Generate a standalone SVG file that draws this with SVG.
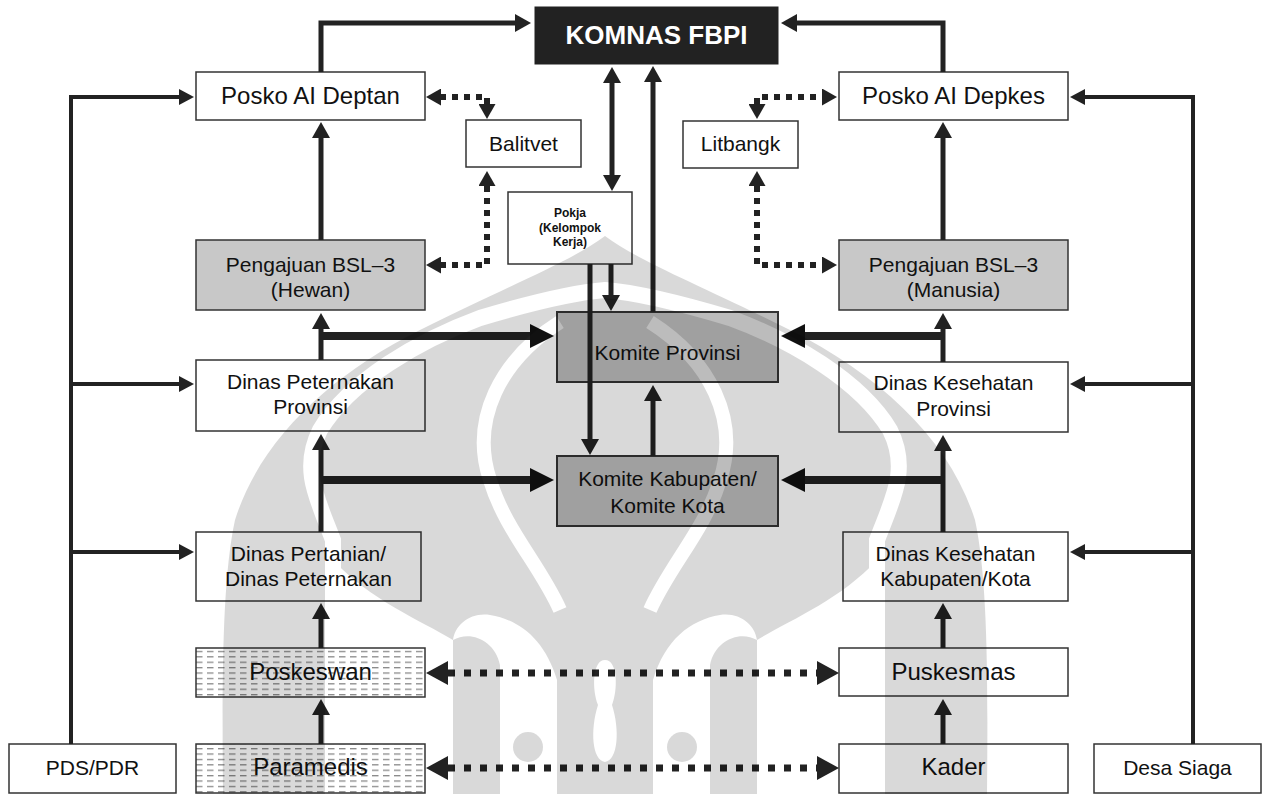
<svg xmlns="http://www.w3.org/2000/svg" width="1263" height="794" viewBox="0 0 1263 794">
<style>
.box{fill:#fff;stroke:#333;stroke-width:1.5}
.g1{fill:#c8c8c8}
.g2{fill:#bcbcbc;stroke-width:2}
.hatch{fill:url(#hatch)}
.t{font-family:"Liberation Sans",Arial,sans-serif;font-size:21px;fill:#111;text-anchor:middle}
.t23{font-size:24px}
.t24{font-size:24px}
.pk{font-size:12px;font-weight:bold}
.km{font-size:26px;font-weight:bold;fill:#fff}
.ln{fill:none;stroke:#222;stroke-width:5}
.thin{stroke-width:4}
.thick{stroke-width:8}
.dot{fill:none;stroke:#222;stroke-width:6;stroke-dasharray:6 6}
.dotb{fill:none;stroke:#222;stroke-width:7;stroke-dasharray:7 9}
</style>
<defs>
<pattern id="hatch" patternUnits="userSpaceOnUse" x="196" y="649" width="11" height="5.4">
<rect width="11" height="5.4" fill="#fff"/>
<line x1="0" y1="2.5" x2="6.5" y2="2.5" stroke="#666" stroke-width="1"/>
</pattern>
<marker id="a5" markerUnits="userSpaceOnUse" markerWidth="16" markerHeight="18" refX="4" refY="9" orient="auto-start-reverse"><path d="M0,0 L16,9 L0,18 Z" fill="#222"/></marker>
<marker id="a4" markerUnits="userSpaceOnUse" markerWidth="15" markerHeight="16" refX="4" refY="8" orient="auto-start-reverse"><path d="M0,0 L15,8 L0,16 Z" fill="#222"/></marker>
<marker id="a8" markerUnits="userSpaceOnUse" markerWidth="24" markerHeight="24" refX="6" refY="12" orient="auto-start-reverse"><path d="M0,0 L24,12 L0,24 Z" fill="#111"/></marker>
<marker id="ad" markerUnits="userSpaceOnUse" markerWidth="15" markerHeight="17" refX="0" refY="8.5" orient="auto-start-reverse"><path d="M0,0 L15,8.5 L0,17 Z" fill="#222"/></marker>
<marker id="adb" markerUnits="userSpaceOnUse" markerWidth="22" markerHeight="24" refX="0" refY="12" orient="auto-start-reverse"><path d="M0,0 L22,12 L0,24 Z" fill="#222"/></marker>
<mask id="wm" maskUnits="userSpaceOnUse" x="0" y="0" width="1263" height="794">
<path fill="#fff" d="M605 236 C640 262 700 285 790 330 C880 375 950 440 975 520 C988 580 988 680 987 794 L223 794 C222 680 222 580 235 520 C260 440 330 375 420 330 C510 285 570 262 605 236 Z"/>
<path fill="none" stroke="#000" stroke-width="16" d="M333 794 L333 540 C318 500 300 470 320 430 C350 380 420 340 480 318 C540 300 580 292 605 290 C630 292 670 300 730 318 C790 340 860 380 890 430 C910 470 892 500 877 540 L877 794"/>
<path fill="#000" d="M333 794 L333 560 C370 600 420 620 453 640 L453 794 Z M877 794 L877 560 C840 600 790 620 757 640 L757 794 Z"/>
<path fill="none" stroke="#000" stroke-width="14" d="M560 322 C500 360 470 420 490 480 C505 530 540 565 560 610"/>
<path fill="none" stroke="#000" stroke-width="14" d="M650 322 C710 360 740 420 720 480 C705 530 670 565 650 610"/>
<path fill="#000" d="M453 640 C470 630 495 640 500 665 L500 794 L557 794 L557 680 C545 640 520 620 490 615 C470 612 455 625 453 640 Z"/>
<path fill="#000" d="M757 640 C740 630 715 640 710 665 L710 794 L653 794 L653 680 C665 640 690 620 720 615 C740 612 755 625 757 640 Z"/>
<circle cx="528" cy="747" r="15" fill="#fff"/>
<circle cx="682" cy="747" r="15" fill="#fff"/>
<path fill="#000" d="M605 660 C592 660 592 690 598 705 C590 730 592 760 605 762 C618 760 620 730 612 705 C618 690 618 660 605 660 Z"/>
</mask>
</defs>
<rect width="1263" height="794" fill="#fff"/>

<g id="komnas"><rect x="535" y="7" width="243" height="57" fill="#222" stroke="#222"/><text class="t km" x="656.5" y="44">KOMNAS FBPI</text></g>
<g id="posko-deptan"><rect class="box" x="196" y="72" width="229" height="48"/><text class="t t23" x="310.5" y="104">Posko AI Deptan</text></g>
<g id="posko-depkes"><rect class="box" x="839" y="72" width="229" height="48"/><text class="t t23" x="953.5" y="104">Posko AI Depkes</text></g>
<g id="balitvet"><rect class="box" x="466" y="120" width="115" height="47"/><text class="t" x="523.5" y="151">Balitvet</text></g>
<g id="litbangk"><rect class="box" x="683" y="121" width="115" height="47"/><text class="t" x="740.5" y="151">Litbangk</text></g>
<g id="pokja"><rect class="box" x="508" y="192" width="124" height="72"/><text class="t pk" x="570" y="217">Pokja</text><text class="t pk" x="570" y="232">(Kelompok</text><text class="t pk" x="570" y="246">Kerja)</text></g>
<g id="bsl-hewan"><rect class="box g1" x="196" y="240" width="229" height="70"/><text class="t" x="310.5" y="272">Pengajuan BSL–3</text><text class="t" x="310.5" y="297">(Hewan)</text></g>
<g id="bsl-manusia"><rect class="box g1" x="839" y="240" width="229" height="70"/><text class="t" x="953.5" y="272">Pengajuan BSL–3</text><text class="t" x="953.5" y="297">(Manusia)</text></g>
<g id="komite-provinsi"><rect class="box g2" x="557" y="312" width="221" height="70"/><text class="t" x="667.5" y="360">Komite Provinsi</text></g>
<g id="komite-kabupaten"><rect class="box g2" x="557" y="456" width="221" height="70"/><text class="t" x="667.5" y="486">Komite Kabupaten/</text><text class="t" x="667.5" y="513">Komite Kota</text></g>
<g id="dinas-peternakan-prov"><rect class="box" x="196" y="360" width="229" height="71"/><text class="t" x="310.5" y="389">Dinas Peternakan</text><text class="t" x="310.5" y="414">Provinsi</text></g>
<g id="dinas-kesehatan-prov"><rect class="box" x="839" y="362" width="229" height="70"/><text class="t" x="953.5" y="390">Dinas Kesehatan</text><text class="t" x="953.5" y="416">Provinsi</text></g>
<g id="dinas-pertanian"><rect class="box" x="196" y="532" width="225" height="69"/><text class="t" x="308.5" y="561">Dinas Pertanian/</text><text class="t" x="308.5" y="586">Dinas Peternakan</text></g>
<g id="dinas-kesehatan-kab"><rect class="box" x="843" y="532" width="225" height="69"/><text class="t" x="955.5" y="561">Dinas Kesehatan</text><text class="t" x="955.5" y="586">Kabupaten/Kota</text></g>
<g id="poskeswan"><rect class="box hatch" x="196" y="648" width="229" height="49"/><text class="t t24" x="310.5" y="680">Poskeswan</text></g>
<g id="puskesmas"><rect class="box" x="839" y="648" width="229" height="48"/><text class="t t24" x="953.5" y="680">Puskesmas</text></g>
<g id="paramedis"><rect class="box hatch" x="196" y="744" width="229" height="49"/><text class="t t24" x="310.5" y="775">Paramedis</text></g>
<g id="kader"><rect class="box" x="839" y="744" width="229" height="49"/><text class="t t24" x="953.5" y="775">Kader</text></g>
<g id="pds-pdr"><rect class="box" x="9" y="744" width="167" height="49"/><text class="t" x="92.5" y="775">PDS/PDR</text></g>
<g id="desa-siaga"><rect class="box" x="1094" y="744" width="167" height="49"/><text class="t" x="1177.5" y="775">Desa Siaga</text></g>

<g id="connectors">
<path class="ln" marker-end="url(#a5)" d="M321 72 L321 23 L519 23"/>
<path class="ln" marker-end="url(#a5)" d="M943 72 L943 23 L793 23"/>
<path class="ln" marker-end="url(#a5)" d="M321 240 L321 134"/>
<path class="ln" marker-end="url(#a5)" d="M321 360 L321 325"/>
<path class="ln" marker-end="url(#a5)" d="M321 532 L321 446"/>
<path class="ln" marker-end="url(#a5)" d="M321 648 L321 615"/>
<path class="ln" marker-end="url(#a5)" d="M321 744 L321 711"/>
<path class="ln" marker-end="url(#a5)" d="M943 240 L943 134"/>
<path class="ln" marker-end="url(#a5)" d="M943 362 L943 325"/>
<path class="ln" marker-end="url(#a5)" d="M943 532 L943 447"/>
<path class="ln" marker-end="url(#a5)" d="M943 648 L943 615"/>
<path class="ln" marker-end="url(#a5)" d="M943 744 L943 711"/>
<path class="ln thick" marker-end="url(#a8)" d="M319 336 L536 336"/>
<path class="ln thick" marker-end="url(#a8)" d="M319 480 L536 480"/>
<path class="ln thick" marker-end="url(#a8)" d="M945 336 L799 336"/>
<path class="ln thick" marker-end="url(#a8)" d="M945 480 L799 480"/>
<path class="ln" marker-start="url(#a5)" marker-end="url(#a5)" d="M612 79 L612 179"/>
<path class="ln" marker-end="url(#a5)" d="M653 312 L653 78"/>
<path class="ln" marker-end="url(#a5)" d="M611 264 L611 299"/>
<path class="ln" marker-end="url(#a5)" d="M590 264 L590 443"/>
<path class="ln" marker-end="url(#a5)" d="M653 456 L653 397"/>
<path class="ln thin" marker-end="url(#a4)" d="M71 744 L71 97 L183 97"/>
<path class="ln thin" marker-end="url(#a4)" d="M71 384 L183 384"/>
<path class="ln thin" marker-end="url(#a4)" d="M71 552 L183 552"/>
<path class="ln thin" marker-end="url(#a4)" d="M1193 744 L1193 97 L1081 97"/>
<path class="ln thin" marker-end="url(#a4)" d="M1193 384 L1081 384"/>
<path class="ln thin" marker-end="url(#a4)" d="M1193 552 L1081 552"/>
<path class="dot" marker-start="url(#ad)" marker-end="url(#ad)" d="M487 104 L487 97 L441 97"/>
<path class="dot" marker-start="url(#ad)" marker-end="url(#ad)" d="M487 186 L487 265 L441 265"/>
<path class="dot" marker-start="url(#ad)" marker-end="url(#ad)" d="M757 104 L757 97 L822 97"/>
<path class="dot" marker-start="url(#ad)" marker-end="url(#ad)" d="M757 186 L757 265 L822 265"/>
<path class="dotb" marker-start="url(#adb)" marker-end="url(#adb)" d="M448 673 L817 673"/>
<path class="dotb" marker-start="url(#adb)" marker-end="url(#adb)" d="M448 768 L817 768"/>
</g>
<rect id="watermark" width="1263" height="794" fill="#000" fill-opacity="0.15" mask="url(#wm)"/>
</svg>
